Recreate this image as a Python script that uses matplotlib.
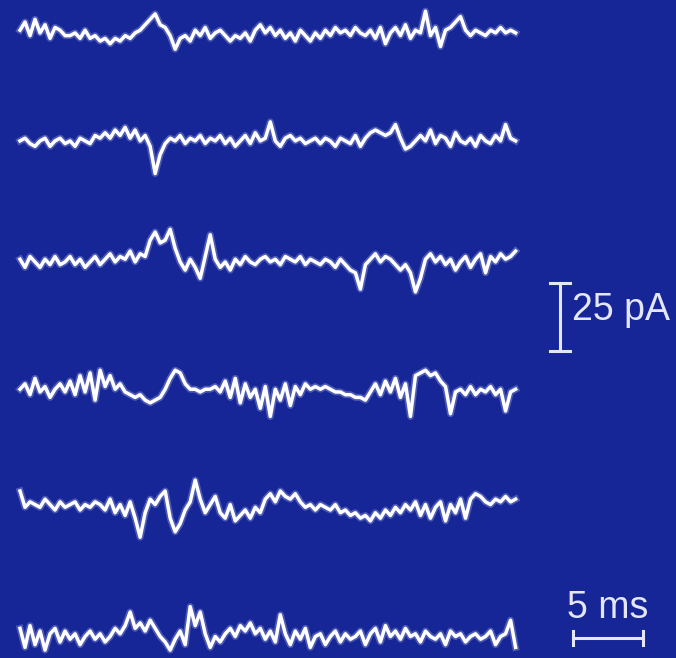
import numpy as np
import matplotlib
matplotlib.use("Agg")
import matplotlib.pyplot as plt

# Current traces (pA, relative to baseline), one value per ~0.36 ms
trace1 = [1, 4, -1, 5, 0, 3, -2, 2, 1, -1,
          -1, 0, -2, 1, -2, -1, -3, -2, -4, -2,
          -3, -1, -2, 0, 1, 3, 5, 7, 3, 2,
          -1, -6, -2, -1, -3, 1, -1, 2, -2, 0,
          1, -1, -3, -1, -2, 0, -3, 1, 3, 0,
          2, -1, 1, -2, 0, -3, 1, -1, -3, 0,
          -2, 1, -1, 2, 0, 1, -1, 2, 0, -1,
          1, -2, 2, -4, 0, 2, -1, 3, -2, 1,
          0, 8, -1, 2, -5, 1, 2, 4, 6, 1,
          -1, 1, 0, -1, 1, 0, 2, 0, 1, 0]
trace2 = [0, 1, -1, -2, 0, 1, -2, 0, 1, -1,
          0, -2, 1, 0, -1, 2, 1, 3, 1, 4,
          2, 5, 1, 4, 0, 2, -2, -12, -5, -1,
          1, 0, 2, -1, 1, 0, 2, -1, 1, 0,
          2, -1, 1, -2, 0, 2, -1, 3, 0, 1,
          7, 0, -2, 1, 2, 0, 1, -1, 0, 1,
          -1, 1, 0, -2, 1, 0, -1, 2, -2, 1,
          3, 4, 3, 2, 3, 6, 1, -3, -2, 0,
          2, 0, 4, -1, 2, 1, -2, 3, 0, -1,
          1, -2, 2, 0, -1, 2, 0, 6, 1, 0]
trace3 = [1, -2, 2, 0, -2, 1, -1, 2, -1, 0,
          2, -1, 1, -2, 0, 2, -1, 1, 3, 0,
          2, 1, 4, 0, 3, 2, 8, 11, 7, 8,
          12, 5, 0, -3, 1, -2, -6, 2, 10, 1,
          -2, 0, -3, 1, -1, 2, 0, -1, 1, 2,
          0, 1, -1, 2, 1, 0, 2, -1, 1, 0,
          -1, 1, 0, -2, 1, -1, -3, -4, -10, -1,
          1, 3, 0, 2, 1, -1, -3, -1, -4, -11,
          -6, 1, 3, 0, 2, -1, 1, -3, 0, 2,
          -2, 1, 3, -4, 2, 0, 3, 1, 2, 4]
trace4 = [1, 3, -1, 5, 0, 2, -2, 1, 3, 0,
          4, -1, 6, 0, 7, -3, 8, 2, 6, 1,
          3, 0, -1, -2, -1, -3, -4, -3, -2, 1,
          5, 8, 7, 3, 1, 1, 0, 1, 1, 2,
          0, 4, -2, 5, -4, 3, -2, 1, -6, 2,
          -9, 1, -3, 3, -5, 2, -1, 3, 1, 2,
          1, 2, 1, 0, 0, -1, -1, -2, -2, -3,
          0, 3, -1, 4, 0, 5, -2, 3, -9, 6,
          7, 8, 6, 7, 4, 2, -8, 0, 1, -1,
          2, -1, 1, 0, 2, -1, 1, -7, 0, 1]
trace5 = [6, 0, 2, 1, 0, 3, 1, -1, 2, 0,
          1, 2, -1, 1, 0, 2, 1, -1, 3, -2,
          1, -3, 2, -4, -11, -2, 3, 1, 4, 6,
          -4, -9, -6, -1, 2, 10, 3, -2, 1, 4,
          -2, -4, 1, -5, -3, -1, -4, 0, -2, 3,
          5, 2, 6, 4, 3, 5, 2, 0, 1, -1,
          1, 0, -1, 1, -2, -1, -3, -2, -4, -3,
          -5, -2, -4, -1, -3, 0, -2, 1, -1, 2,
          -3, 1, -4, 0, 2, -5, 1, -2, 3, -4,
          3, 5, 4, 2, 1, 3, 2, 4, 2, 3]
trace6 = [3, -4, 4, -3, 2, -5, 1, 3, -2, 2,
          -1, 1, -3, 0, 2, -1, 1, -2, 0, 3,
          1, 4, 9, 3, 5, 2, 6, 3, 0, -2,
          -5, -1, 2, -3, 11, 4, 9, 1, -4, 0,
          -2, 1, 3, 0, 4, 2, 5, 1, 3, -1,
          2, -2, 8, 1, -3, 2, -1, 3, -4, 0,
          1, -3, 0, 2, -2, 1, -1, 0, 2, -3,
          1, 3, -2, 4, 0, 2, -1, 3, 0, 1,
          -2, 2, 0, -1, 1, -3, 2, 0, 1, -2,
          0, 1, -1, 0, 2, -3, 0, 1, 6, -4]
traces = [trace1, trace2, trace3, trace4, trace5, trace6]
sweep_ms = 35.4

# layout: vertical position of each sweep (pA, downwards)
offsets = [-12.1, -51.8, -96.3, -144.1, -186.5, -234.0]

bg = "#162696"
fg = "#e4e6fa"

fig = plt.figure(figsize=(6.76, 6.58), dpi=100, facecolor=bg)
ax = fig.add_axes([0, 0, 1, 1])
ax.set_facecolor(bg)
ax.set_xlim(-1.43, 46.86)
ax.set_ylim(-241.9, 0)
ax.axis("off")

for tr, off in zip(traces, offsets):
    t = np.linspace(0, sweep_ms, len(tr))
    y = np.array(tr) + off
    # soft halo, then the bright trace
    ax.plot(t, y, color="#c8ceff", lw=5.0, alpha=0.3, solid_joinstyle="round")
    ax.plot(t, y, color="white", lw=2.5, solid_joinstyle="round")

# 25 pA scale bar
sx, sy0 = 38.57, -129.0
ax.plot([sx, sx], [sy0, sy0 + 25], color=fg, lw=2.2)
ax.plot([sx - 0.7, sx + 0.7], [sy0, sy0], color=fg, lw=2.2)
ax.plot([sx - 0.7, sx + 0.7], [sy0 + 25, sy0 + 25], color=fg, lw=2.2)
ax.text(39.4, -114.0, "25 pA", color=fg, fontsize=27, family="Liberation Sans",
        ha="left", va="center")

# 5 ms scale bar
hx0, hy = 39.5, -234.6
ax.plot([hx0, hx0 + 5], [hy, hy], color=fg, lw=2.2)
ax.plot([hx0, hx0], [hy - 2.7, hy + 2.7], color=fg, lw=2.2)
ax.plot([hx0 + 5, hx0 + 5], [hy - 2.7, hy + 2.7], color=fg, lw=2.2)
ax.text(hx0 + 2.5, -223.5, "5 ms", color=fg, fontsize=27, family="Liberation Sans",
        ha="center", va="center")

fig.savefig("out.png", dpi=100, facecolor=bg)
